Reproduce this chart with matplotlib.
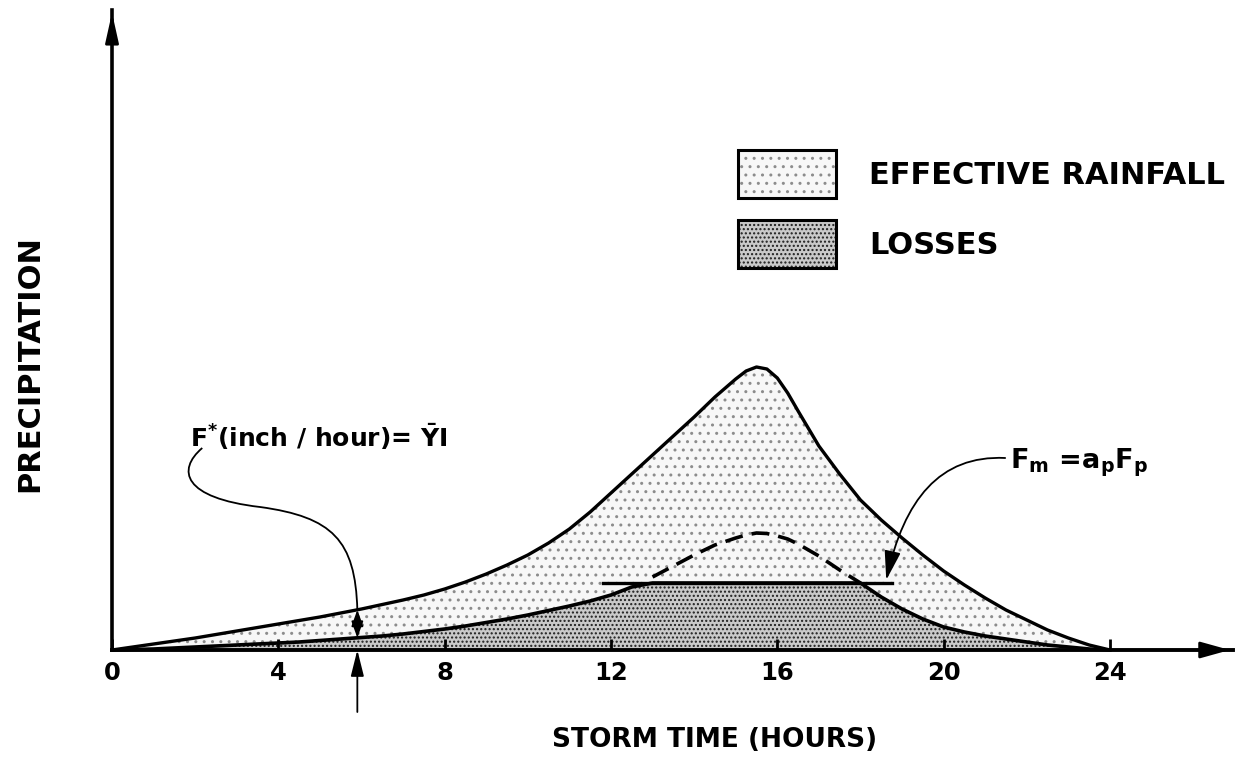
import numpy as np
import matplotlib
matplotlib.use('Agg')
import matplotlib.pyplot as plt
from matplotlib.patches import Patch, PathPatch, FancyArrowPatch
from matplotlib.path import Path
from matplotlib.legend_handler import HandlerTuple

plt.rcParams['font.family'] = ['DejaVu Sans']
plt.rcParams['font.weight'] = 'bold'
plt.rcParams['mathtext.default'] = 'bf'
plt.rcParams['hatch.linewidth'] = 1.0

# storm time (hours) and precipitation rates
hours = [0, 0.5, 1, 1.5, 2, 2.5, 3, 3.5, 4, 4.5, 5, 5.5, 6, 6.5, 7, 7.5, 8,
         8.5, 9, 9.5, 10, 10.5, 11, 11.5, 12, 12.5, 13, 13.5, 14, 14.5, 15,
         15.25, 15.5, 15.75, 16, 16.25, 16.5, 17, 17.5, 18, 18.5, 19, 19.5,
         20, 20.5, 21, 21.5, 22, 22.5, 23, 23.5, 24]
rainfall = [0, 0.03, 0.06, 0.09, 0.12, 0.155, 0.19, 0.225, 0.26, 0.295, 0.33,
            0.37, 0.41, 0.455, 0.50, 0.55, 0.61, 0.68, 0.76, 0.85, 0.95, 1.07,
            1.21, 1.38, 1.57, 1.76, 1.95, 2.14, 2.33, 2.53, 2.71, 2.79, 2.83,
            2.81, 2.72, 2.57, 2.39, 2.04, 1.76, 1.50, 1.30, 1.12, 0.95, 0.79,
            0.65, 0.52, 0.40, 0.30, 0.20, 0.12, 0.05, 0]
loss_rate = [0, 0.005, 0.01, 0.02, 0.03, 0.04, 0.05, 0.06, 0.07, 0.08, 0.095,
             0.11, 0.125, 0.14, 0.16, 0.185, 0.21, 0.24, 0.275, 0.31, 0.35,
             0.395, 0.44, 0.49, 0.55, 0.63, 0.73, 0.84, 0.95, 1.05, 1.12,
             1.15, 1.17, 1.165, 1.14, 1.11, 1.06, 0.94, 0.80, 0.67, 0.53,
             0.41, 0.31, 0.23, 0.18, 0.14, 0.11, 0.08, 0.05, 0.03, 0.01, 0]
fm_level = 0.67          # F_m = a_p F_p
fm_span = [11.8, 18.76]
f_star_hour = 5.9

x_ticks = [0, 4, 8, 12, 16, 20, 24]
x_tick_labels = ['0', '4', '8', '12', '16', '20', '24']

hours = np.array(hours)
rainfall = np.array(rainfall)
loss_rate = np.array(loss_rate)
losses = np.minimum(loss_rate, fm_level)
excess = np.where(loss_rate >= fm_level - 0.001, loss_rate, np.nan)

eff_face, eff_dots = '#f7f7f7', '#8c8c8c'
loss_face, loss_dots = '#c9c9c9', '#1e1e1e'

fig = plt.figure(figsize=(12.43, 7.65), dpi=100)
ax = fig.add_axes([0, 0, 1, 1])
ax.set_xlim(-2.694, 27.2)
ax.set_ylim(-1.15, 6.5)

# shaded areas
ax.fill_between(hours, losses, rainfall, facecolor=eff_face,
                edgecolor=eff_dots, linewidth=0, hatch='..')
ax.fill_between(hours, 0, losses, facecolor=loss_face,
                edgecolor=loss_dots, linewidth=0, hatch='....')

ax.plot(hours, rainfall, color='k', lw=2.4, solid_capstyle='round')
ax.plot(hours, losses, color='k', lw=2.6)
ax.plot(hours, excess, color='k', lw=2.6, linestyle=(0, (5, 2.5)))
ax.plot(fm_span, [fm_level, fm_level], color='k', lw=2.4)

# axes with arrow heads
x_end, y_end = 26.95, 6.4
for side in ['top', 'right']:
    ax.spines[side].set_visible(False)
ax.spines['left'].set_position(('data', 0))
ax.spines['bottom'].set_position(('data', 0))
ax.spines['left'].set_bounds(0, y_end)
ax.spines['bottom'].set_bounds(0, x_end)
ax.spines['left'].set_linewidth(2.6)
ax.spines['bottom'].set_linewidth(2.8)
ax.annotate('', xy=(x_end, 0), xytext=(x_end - 0.5, 0),
            arrowprops=dict(arrowstyle='-|>,head_length=0.9,head_width=0.25',
                            color='k', lw=2, mutation_scale=20))
ax.annotate('', xy=(0, y_end), xytext=(0, y_end - 0.3),
            arrowprops=dict(arrowstyle='-|>,head_length=0.9,head_width=0.2',
                            color='k', lw=2, mutation_scale=20))

ax.set_xticks(x_ticks, x_tick_labels)
ax.set_yticks([])
ax.tick_params(axis='x', direction='in', length=8, width=2, pad=8,
               labelsize=17.5)

ax.set_xlabel('STORM TIME (HOURS)', fontsize=19, fontweight='bold')
ax.xaxis.set_label_coords(715 / 1243, 1 - 727 / 765)
ax.set_ylabel('PRECIPITATION', fontsize=22, fontweight='bold')
ax.yaxis.set_label_coords(44 / 1243, 1 - 364 / 765)

# legend
eff_fill = Patch(facecolor=eff_face, edgecolor=eff_dots, linewidth=0,
                 hatch='..')
loss_fill = Patch(facecolor=loss_face, edgecolor=loss_dots, linewidth=0,
                  hatch='....')
border = Patch(facecolor='none', edgecolor='k', linewidth=2.2)
ax.legend([(eff_fill, border), (loss_fill, border)],
          ['EFFECTIVE RAINFALL', 'LOSSES'],
          handler_map={tuple: HandlerTuple(ndivide=1)},
          loc='upper left', bbox_to_anchor=(738 / 1243, 1 - 150 / 765),
          bbox_transform=fig.transFigure, frameon=False,
          prop={'size': 22, 'weight': 'bold'},
          handlelength=3.2, handleheight=2.04, labelspacing=0.72,
          handletextpad=1.1, borderpad=0, borderaxespad=0)

# F* annotation
r6 = np.interp(f_star_hour, hours, rainfall)
l6 = np.interp(f_star_hour, hours, losses)
ax.text(1.88, 2.13, r'F$^{*}$(inch / hour)= $\bar{\mathbf{Y}}$I',
        fontsize=18, va='center', ha='left')
leader = Path([(2.17, 2.02), (1.55, 1.80), (1.70, 1.52), (3.56, 1.43),
               (5.30, 1.33), (f_star_hour - 0.05, 1.10), (f_star_hour, r6)],
              [Path.MOVETO, Path.CURVE4, Path.CURVE4, Path.CURVE4,
               Path.CURVE4, Path.CURVE4, Path.CURVE4])
ax.add_patch(PathPatch(leader, facecolor='none', edgecolor='k', lw=1.3))
ax.annotate('', xy=(f_star_hour, r6), xytext=(f_star_hour, l6),
            arrowprops=dict(arrowstyle='<|-|>,head_length=0.5,head_width=0.18',
                            color='k', lw=1.3, mutation_scale=20,
                            shrinkA=0, shrinkB=0))
ax.annotate('', xy=(f_star_hour, 0), xytext=(f_star_hour, -0.62),
            arrowprops=dict(arrowstyle='-|>,head_length=0.8,head_width=0.2',
                            color='k', lw=1.3, mutation_scale=20,
                            shrinkA=0, shrinkB=0))

# Fm annotation
ax.text(21.6, 1.87, r'F$_\mathbf{m}$ =a$_\mathbf{p}$F$_\mathbf{p}$',
        fontsize=19.5, va='center', ha='left')
fm_path = Path([(21.48, 1.92), (19.9, 1.95), (19.05, 1.50),
                (18.62, fm_level + 0.03)],
               [Path.MOVETO, Path.CURVE4, Path.CURVE4, Path.CURVE4])
ax.add_patch(FancyArrowPatch(path=fm_path,
                             arrowstyle='-|>,head_length=0.9,head_width=0.25',
                             color='k', lw=1.3, mutation_scale=20))

fig.savefig('out.png', dpi=100)
